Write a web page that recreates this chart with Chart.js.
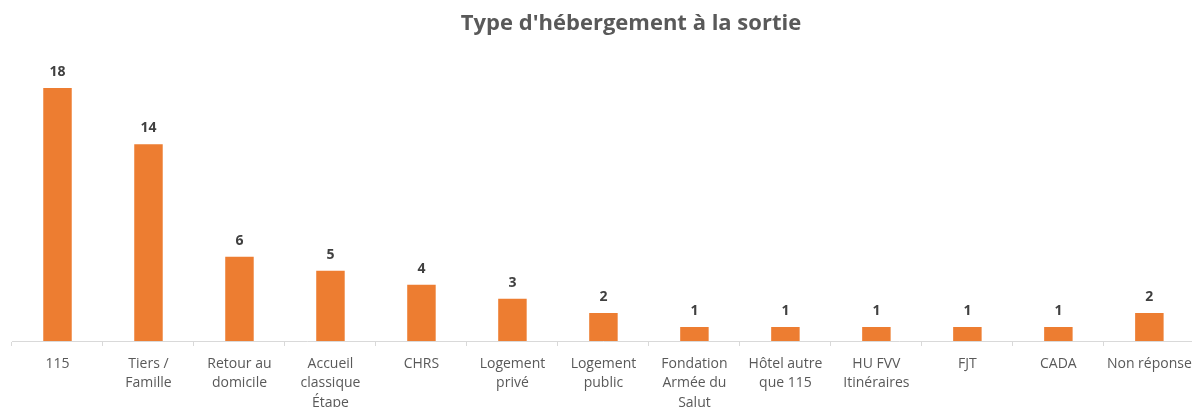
<!DOCTYPE html>
<html>
<head>
<meta charset="utf-8">
<script src="https://cdn.jsdelivr.net/npm/chart.js@4"></script>
<style>
  html, body { margin: 0; padding: 0; background: #fff; overflow: hidden; }
  #wrap { width: 1200px; height: 407px; }
</style>
</head>
<body>
<div id="wrap"><canvas id="chart" width="1200" height="407"></canvas></div>
<script>
const chartTitle = "Type d'hébergement à la sortie";
const categories = [
  '115',
  ['Tiers /', 'Famille'],
  ['Retour au', 'domicile'],
  ['Accueil', 'classique', 'Étape'],
  'CHRS',
  ['Logement', 'privé'],
  ['Logement', 'public'],
  ['Fondation', 'Armée du', 'Salut'],
  ['Hôtel autre', 'que 115'],
  ['HU FVV', 'Itinéraires'],
  'FJT',
  'CADA',
  'Non réponse'
];
const counts = [18, 14, 6, 5, 4, 3, 2, 1, 1, 1, 1, 1, 2];

const gray = '#595959';

// title and value labels drawn on the canvas
const extras = {
  id: 'extras',
  afterDatasetsDraw(chart) {
    const ctx = chart.ctx;
    ctx.save();
    ctx.fillStyle = gray;
    ctx.font = 'bold 22px "Open Sans"';
    ctx.textAlign = 'center';
    ctx.textBaseline = 'middle';
    ctx.fillText(chartTitle, 631, 24);

    ctx.fillStyle = '#404040';
    ctx.font = 'bold 14px "Open Sans"';
    ctx.textBaseline = 'bottom';
    chart.getDatasetMeta(0).data.forEach((bar, i) => {
      ctx.fillText(String(counts[i]), bar.x, bar.y - 9);
    });
    ctx.restore();
  }
};

new Chart(document.getElementById('chart').getContext('2d'), {
  type: 'bar',
  data: {
    labels: categories,
    datasets: [{
      data: counts,
      backgroundColor: '#ED7D31',
      borderWidth: 0,
      categoryPercentage: 1,
      barPercentage: 0.313
    }]
  },
  options: {
    responsive: false,
    animation: false,
    layout: { padding: { top: 60, left: 12, right: 5, bottom: 0 } },
    plugins: {
      legend: { display: false },
      tooltip: { enabled: false }
    },
    scales: {
      y: { display: false, min: 0, max: 20 },
      x: {
        afterFit: (s) => { s.height = 66; },
        border: { color: '#d9d9d9', width: 1 },
        grid: { drawOnChartArea: false, color: '#d9d9d9', tickLength: 5, offset: true },
        ticks: {
          color: gray,
          padding: 8,
          maxRotation: 0,
          autoSkip: false,
          font: { family: '"Open Sans"', size: 14, lineHeight: 1.4 }
        }
      }
    }
  },
  plugins: [extras]
});
</script>
</body>
</html>
